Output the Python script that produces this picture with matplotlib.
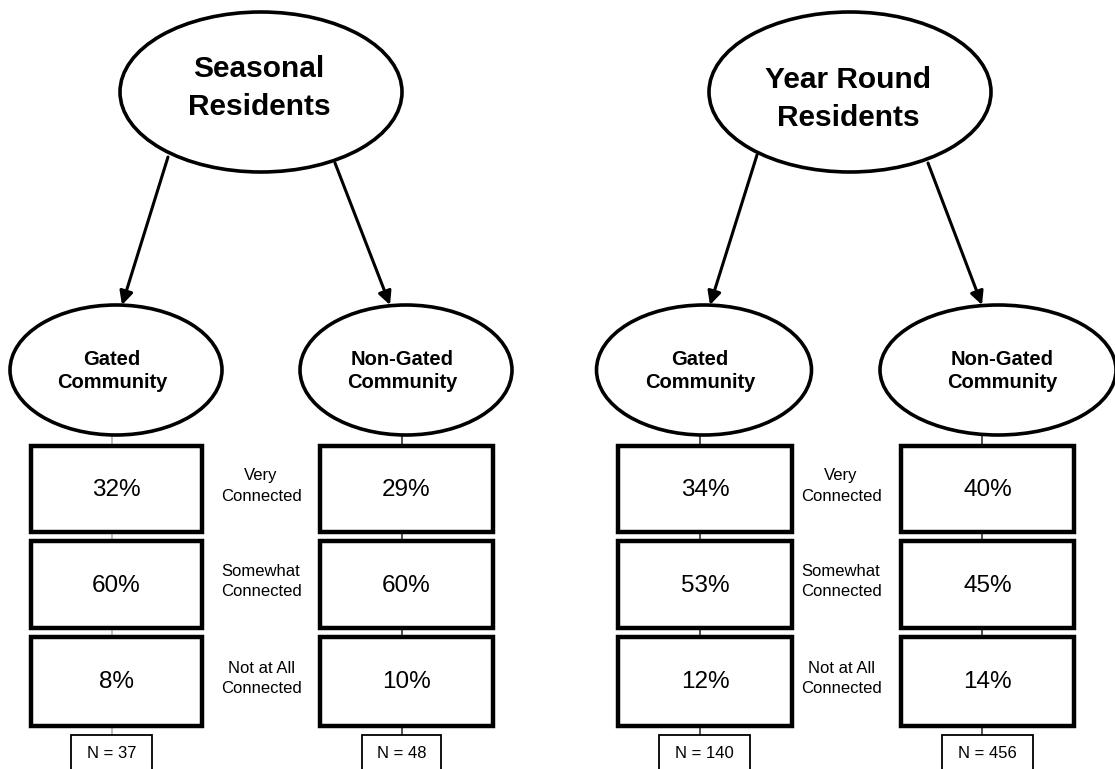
import matplotlib
matplotlib.use("Agg")
import matplotlib.pyplot as plt
from matplotlib.patches import Ellipse, Rectangle, FancyArrowPatch

# ---- data ----
groups = ["Seasonal\nResidents", "Year Round\nResidents"]
communities = ["Gated\nCommunity", "Non-Gated\nCommunity"]
levels = ["Very\nConnected", "Somewhat\nConnected", "Not at All\nConnected"]
seasonal_gated = [32, 60, 8]
seasonal_nongated = [29, 60, 10]
year_gated = [34, 53, 12]
year_nongated = [40, 45, 14]
n_values = [37, 48, 140, 456]

values = [seasonal_gated, seasonal_nongated, year_gated, year_nongated]

# ---- layout (pixel coordinates) ----
W, H = 1115, 769
fig = plt.figure(figsize=(W / 100, H / 100), dpi=100)
ax = fig.add_axes([0, 0, 1, 1])
ax.set_xlim(0, W)
ax.set_ylim(H, 0)
ax.axis("off")

FONT = "Liberation Sans"

top_centers = [(261, 92), (850, 92)]
top_text_y = [88, 99]
top_size = (282, 160)

sub_centers = [(116, 370), (406, 370), (704, 370), (998, 370)]
sub_widths = [212, 212, 215, 236]
sub_h = 130
sub_text_x = [112, 402, 700, 1002]

box_x = [(31, 202), (320, 493), (618, 792), (901, 1074)]
box_y = [(446, 532), (541, 628), (637, 726)]
conn_x = [112, 402, 700, 982]
conn_col = ["#b0b0b0", "#333333", "#333333", "#333333"]
n_box_x = [(71, 152), (362, 441), (659, 750), (942, 1033)]

label_x = [261, 841]

arrows = [((168, 157), (122, 305)), ((335, 163), (390, 305)),
          ((757, 155), (710, 305)), ((928, 163), (982, 305))]

# top ellipses
for (cx, cy), ty, g in zip(top_centers, top_text_y, groups):
    ax.add_patch(Ellipse((cx, cy), top_size[0], top_size[1], fill=False,
                         lw=2.6, ec="black"))
    ax.text(cx - 2, ty, g, ha="center", va="center", fontsize=21.5,
            fontweight="bold", family=FONT, linespacing=1.42)

# arrows
for s, e in arrows:
    ax.add_patch(FancyArrowPatch(s, e, arrowstyle="-|>,head_length=8,head_width=4",
                                 lw=2.2, color="black", shrinkA=0, shrinkB=0,
                                 mutation_scale=1))

# sub ellipses, connectors, boxes
for i in range(4):
    cx, cy = sub_centers[i]
    # connectors
    ax.plot([conn_x[i], conn_x[i]], [cy + sub_h / 2, 760], color=conn_col[i],
            lw=1.2, zorder=1)
    ax.add_patch(Ellipse((cx, cy), sub_widths[i], sub_h, fc="white",
                         lw=2.6, ec="black", zorder=2))
    ax.text(sub_text_x[i], cy + 1, communities[i % 2], ha="center", va="center",
            fontsize=14.5, fontweight="bold", family=FONT, linespacing=1.3,
            zorder=3)
    x0, x1 = box_x[i]
    for j, (y0, y1) in enumerate(box_y):
        ax.add_patch(Rectangle((x0, y0), x1 - x0, y1 - y0, fc="white",
                               ec="black", lw=3.2, zorder=2))
        ax.text((x0 + x1) / 2, (y0 + y1) / 2 + 1, f"{values[i][j]}%",
                ha="center", va="center", fontsize=17.5, family=FONT, zorder=3)
    nx0, nx1 = n_box_x[i]
    ax.add_patch(Rectangle((nx0, 735), nx1 - nx0, 60, fc="white", ec="black",
                           lw=1.3, zorder=2))
    ax.text((nx0 + nx1) / 2, 753, f"N = {n_values[i]}", ha="center",
            va="center", fontsize=12, family=FONT, zorder=3)

# level labels
for lx in label_x:
    for j, (y0, y1) in enumerate(box_y):
        ax.text(lx, (y0 + y1) / 2 - 3, levels[j], ha="center", va="center",
                fontsize=12, family=FONT, linespacing=1.45)

fig.savefig("out.png", dpi=100, facecolor="white")
